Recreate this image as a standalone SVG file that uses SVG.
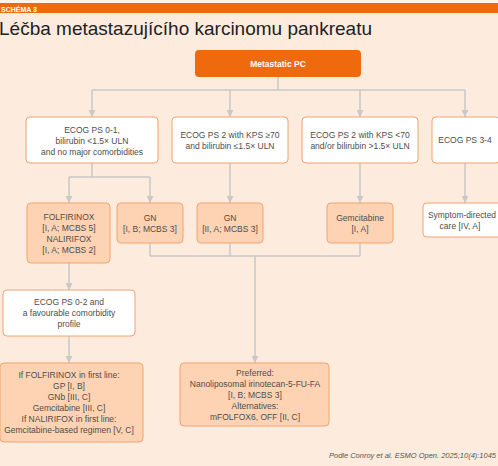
<svg xmlns="http://www.w3.org/2000/svg" width="498" height="466" viewBox="0 0 498 466">
<style>
.t{font-family:"Liberation Sans",Arial,sans-serif;font-size:8.5px;fill:#4d4d4d;text-anchor:middle}
.w{fill:#ffffff;stroke:#F4A26E;stroke-width:1}
.o{fill:#FDD3B3;stroke:#F4A26E;stroke-width:1}
.c{fill:none;stroke:#C9C9C9;stroke-width:1.5}
</style>
<defs>
<marker id="ar" markerWidth="7" markerHeight="7" refX="7" refY="3.5" orient="auto" markerUnits="userSpaceOnUse">
<path d="M0,0 L7,3.5 L0,7 Z" fill="#C9C9C9"/>
</marker>
</defs>
<rect x="0" y="0" width="498" height="466" fill="#FDEBDD"/>
<rect x="0" y="0" width="498" height="3" fill="#FFF4EC"/>
<rect x="0" y="3" width="498" height="10" fill="#EE6A0D"/>
<text x="1" y="11.5" style="font-family:'Liberation Sans',Arial,sans-serif;font-size:7px;font-weight:bold;fill:#ffffff">SCHÉMA 3</text>
<text x="-1" y="35" textLength="373" lengthAdjust="spacingAndGlyphs" style="font-family:'Liberation Sans',Arial,sans-serif;font-size:19px;fill:#222222">Léčba metastazujícího karcinomu pankreatu</text>

<g id="connectors">
<path class="c" d="M278,77 V90 M92,90 H465"/>
<path class="c" d="M92,90 V117" marker-end="url(#ar)"/>
<path class="c" d="M230,90 V117" marker-end="url(#ar)"/>
<path class="c" d="M360,90 V117" marker-end="url(#ar)"/>
<path class="c" d="M465,90 V117" marker-end="url(#ar)"/>
<path class="c" d="M92,163 V177 M69,177 H150"/>
<path class="c" d="M69,177 V203" marker-end="url(#ar)"/>
<path class="c" d="M150,177 V203" marker-end="url(#ar)"/>
<path class="c" d="M230,163 V203" marker-end="url(#ar)"/>
<path class="c" d="M360,163 V203" marker-end="url(#ar)"/>
<path class="c" d="M465,163 V203" marker-end="url(#ar)"/>
<path class="c" d="M150,243 V256 M230,243 V256 M360,243 V256 M150,256 H360"/>
<path class="c" d="M255,256 V363" marker-end="url(#ar)"/>
<path class="c" d="M69,263 V290" marker-end="url(#ar)"/>
<path class="c" d="M69,336 V363" marker-end="url(#ar)"/>
</g>

<g id="metastatic">
<rect x="195" y="50" width="166" height="27" rx="4" fill="#EE6A0D"/>
<text x="278" y="67" style="font-family:'Liberation Sans',Arial,sans-serif;font-size:8.5px;font-weight:bold;fill:#ffffff;text-anchor:middle">Metastatic PC</text>
</g>

<g id="ecog01">
<rect class="w" x="26" y="117" width="132" height="46" rx="4"/>
<text class="t" x="92" y="133">ECOG PS 0-1,</text>
<text class="t" x="92" y="144">bilirubin &lt;1.5× ULN</text>
<text class="t" x="92" y="155">and no major comorbidities</text>
</g>
<g id="ecog2a">
<rect class="w" x="172" y="117" width="116" height="46" rx="4"/>
<text class="t" x="230" y="138">ECOG PS 2 with KPS ≥70</text>
<text class="t" x="230" y="149">and bilirubin ≤1.5× ULN</text>
</g>
<g id="ecog2b">
<rect class="w" x="302" y="117" width="116" height="46" rx="4"/>
<text class="t" x="360" y="138">ECOG PS 2 with KPS &lt;70</text>
<text class="t" x="360" y="149">and/or bilirubin &gt;1.5× ULN</text>
</g>
<g id="ecog34">
<rect class="w" x="432" y="117" width="68" height="46" rx="4"/>
<text class="t" x="465" y="143">ECOG PS 3-4</text>
</g>

<g id="folfirinox">
<rect class="o" x="27" y="203" width="83" height="60" rx="4"/>
<text class="t" x="69" y="220">FOLFIRINOX</text>
<text class="t" x="69" y="231">[I, A; MCBS 5]</text>
<text class="t" x="69" y="242">NALIRIFOX</text>
<text class="t" x="69" y="253">[I, A; MCBS 2]</text>
</g>
<g id="gn1">
<rect class="o" x="117" y="203" width="66" height="40" rx="4"/>
<text class="t" x="150" y="221">GN</text>
<text class="t" x="150" y="232">[I, B; MCBS 3]</text>
</g>
<g id="gn2">
<rect class="o" x="197" y="203" width="66" height="40" rx="4"/>
<text class="t" x="230" y="221">GN</text>
<text class="t" x="230" y="232">[II, A; MCBS 3]</text>
</g>
<g id="gem">
<rect class="o" x="327" y="203" width="66" height="40" rx="4"/>
<text class="t" x="360" y="221">Gemcitabine</text>
<text class="t" x="360" y="232">[I, A]</text>
</g>
<g id="symptom">
<rect class="w" x="423" y="203" width="84" height="34" rx="4"/>
<text class="t" x="462" y="218" textLength="68" lengthAdjust="spacingAndGlyphs">Symptom-directed</text>
<text class="t" x="460" y="229">care [IV, A]</text>
</g>

<g id="ecog02">
<rect class="w" x="3" y="290" width="132" height="46" rx="4"/>
<text class="t" x="69" y="305">ECOG PS 0-2 and</text>
<text class="t" x="69" y="316">a favourable comorbidity</text>
<text class="t" x="69" y="327">profile</text>
</g>

<g id="secondleft">
<rect class="o" x="0" y="363" width="143" height="79" rx="4"/>
<text class="t" x="69" y="378">If FOLFIRINOX in first line:</text>
<text class="t" x="69" y="389">GP [I, B]</text>
<text class="t" x="69" y="400">GNb [III, C]</text>
<text class="t" x="69" y="411">Gemcitabine [III, C]</text>
<text class="t" x="69" y="422">If NALIRIFOX in first line:</text>
<text class="t" x="69" y="433">Gemcitabine-based regimen [V, C]</text>
</g>

<g id="preferred">
<rect class="o" x="180" y="363" width="149" height="63" rx="4"/>
<text class="t" x="255" y="376">Preferred:</text>
<text class="t" x="255" y="387">Nanoliposomal irinotecan-5-FU-FA</text>
<text class="t" x="255" y="398">[I, B; MCBS 3]</text>
<text class="t" x="255" y="409">Alternatives:</text>
<text class="t" x="255" y="420">mFOLFOX6, OFF [II, C]</text>
</g>

<text x="329" y="458" textLength="167" lengthAdjust="spacingAndGlyphs" style="font-family:'Liberation Sans',Arial,sans-serif;font-size:7.5px;font-style:italic;fill:#555555">Podle Conroy et al. ESMO Open. 2025;10(4):1045</text>
</svg>
